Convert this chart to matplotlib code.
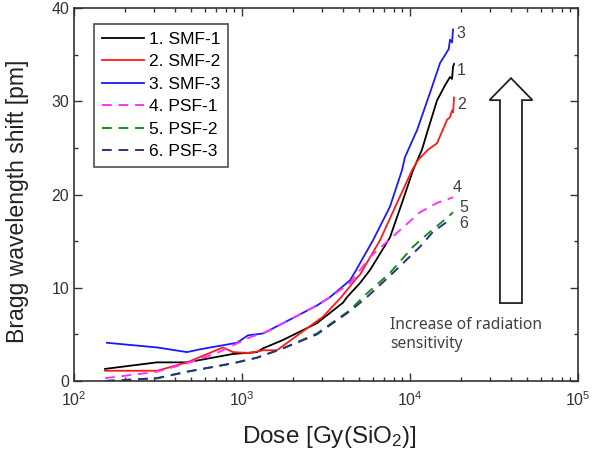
import numpy as np
import matplotlib
matplotlib.use("Agg")
import matplotlib.pyplot as plt
from matplotlib.patches import FancyArrow
from matplotlib.ticker import MultipleLocator

plt.rcParams['font.family'] = ['Liberation Sans', 'DejaVu Sans']
plt.rcParams['mathtext.default'] = 'regular'

# dose [Gy(SiO2)] and Bragg wavelength shift [pm]
smf1_dose = [153, 312, 471, 883, 1228, 1334, 1754, 2213, 2793, 3990, 4220, 5035, 5780, 7600,
             9080, 10420, 11780, 12620, 14490, 16150, 17300, 17790, 18040, 18290]
smf1_val = [1.3, 2.0, 2.0, 2.9, 3.1, 3.5, 4.4, 5.3, 6.2, 8.4, 9.0, 10.5, 11.9, 15.4,
            19.4, 22.6, 24.8, 26.6, 30.1, 31.7, 32.6, 32.4, 33.7, 34.0]

smf2_dose = [153, 312, 471, 771, 883, 1117, 1334, 1615, 2213, 3035, 3900, 4842, 5035, 6630,
             8370, 10280, 11170, 12790, 14490, 16600, 17300, 17790, 18040, 18290]
smf2_val = [1.1, 1.1, 2.0, 3.6, 3.1, 3.0, 3.3, 3.3, 5.1, 6.9, 9.0, 11.1, 11.4, 15.1,
            19.1, 22.6, 23.7, 24.8, 25.5, 28.0, 28.3, 29.0, 28.8, 30.4]

smf3_dose = [157, 312, 471, 562, 933, 1086, 1334, 1754, 2793, 3342, 4395, 4710, 6025, 7600,
             8960, 9330, 11010, 13150, 15100, 16600, 17000, 17300, 17790, 18040]
smf3_val = [4.1, 3.6, 3.1, 3.4, 4.1, 4.9, 5.1, 6.2, 8.1, 9.0, 10.8, 11.7, 15.1, 18.7,
            22.6, 24.0, 26.9, 30.9, 34.1, 35.3, 35.6, 36.6, 36.3, 37.7]

psf1_dose = [153, 312, 471, 709, 1117, 1409, 1754, 2793, 3342, 4395, 5780, 8370, 11480,
             14490, 18040]
psf1_val = [0.3, 1.0, 1.9, 3.0, 4.7, 5.3, 6.2, 8.1, 9.0, 10.5, 13.3, 15.9, 18.1,
            19.1, 19.7]

psf2_dose = [153, 312, 471, 883, 1228, 1754, 2793, 4395, 5250, 7600, 10420, 13150, 16600, 18040]
psf2_val = [0.0, 0.3, 1.0, 1.9, 2.5, 3.5, 5.1, 7.6, 9.0, 11.6, 14.4, 16.0, 17.5, 18.1]

psf3_dose = [153, 312, 471, 883, 1228, 1754, 2793, 4395, 5546, 7925, 11480, 13710, 17300]
psf3_val = [0.0, 0.3, 1.0, 1.9, 2.5, 3.5, 5.0, 7.5, 9.0, 11.6, 14.4, 16.0, 17.3]

fig = plt.figure(figsize=(5.93, 4.5), dpi=100)
ax = fig.add_axes([0.1248, 0.1533, 0.8499, 0.8289])

ax.plot(smf1_dose, smf1_val, '-', color='black', lw=1.3, label='1. SMF-1')
ax.plot(smf2_dose, smf2_val, '-', color='#ff1a1a', lw=1.3, label='2. SMF-2')
ax.plot(smf3_dose, smf3_val, '-', color='#1a1aff', lw=1.3, label='3. SMF-3')
ax.plot(psf1_dose, psf1_val, '--', color='#ff33ff', lw=1.4, dashes=(5, 3.5), label='4. PSF-1')
ax.plot(psf2_dose, psf2_val, '--', color='#1f8a1f', lw=1.4, dashes=(5, 3.5), label='5. PSF-2')
ax.plot(psf3_dose, psf3_val, '--', color='#26337f', lw=1.4, dashes=(5, 3.5), label='6. PSF-3')

ax.set_xscale('log')
ax.set_xlim(1e2, 1e5)
ax.set_ylim(0, 40)
ax.yaxis.set_major_locator(MultipleLocator(10))
ax.yaxis.set_minor_locator(MultipleLocator(5))
ax.tick_params(which='both', direction='in', top=True, right=True, colors='#333333',
               labelsize=11.5, width=1.0)
ax.tick_params(which='major', length=6)
ax.tick_params(which='minor', length=3)
ax.tick_params(axis='x', which='major', pad=7)
for s in ax.spines.values():
    s.set_linewidth(1.2)
    s.set_color('#333333')

ax.set_xlabel('Dose [Gy(SiO$_2$)]', fontsize=17.5, color='#222222')
ax.xaxis.set_label_coords(0.506, -0.116)
ax.set_ylabel('Bragg wavelength shift [pm]', fontsize=16.6, color='#222222')
ax.yaxis.set_label_coords(-0.089, 0.483)

leg = ax.legend(loc='upper left', bbox_to_anchor=(0.04, 0.957), borderaxespad=0,
                fontsize=12.5, frameon=True, fancybox=False, handlelength=2.4,
                handletextpad=0.3, labelspacing=0.42, borderpad=0.45)
leg.get_frame().set_edgecolor('#222222')
leg.get_frame().set_linewidth(1.2)

# curve numbers at the ends
lab_col = '#404040'
ax.text(18800, 37.3, '3', fontsize=11.5, color=lab_col, va='center')
ax.text(19100, 33.3, '1', fontsize=11.5, color=lab_col, va='center')
ax.text(19100, 29.7, '2', fontsize=11.5, color=lab_col, va='center')
ax.text(18040, 20.8, '4', fontsize=11.5, color=lab_col, va='center')
ax.text(19700, 18.6, '5', fontsize=11.5, color=lab_col, va='center')
ax.text(19700, 16.9, '6', fontsize=11.5, color=lab_col, va='center')

arrow = FancyArrow(0.867, 0.209, 0, 0.603, width=0.0437, head_width=0.0853,
                   head_length=0.059, length_includes_head=True, transform=ax.transAxes,
                   facecolor='white', edgecolor='#222222', lw=1.3)
ax.add_patch(arrow)
ax.text(7600, 6.9, 'Increase of radiation\nsensitivity', fontsize=11.2, color=lab_col,
        family=['Noto Sans', 'DejaVu Sans'], va='top', ha='left', linespacing=1.3)

fig.savefig('out.png', dpi=100)
